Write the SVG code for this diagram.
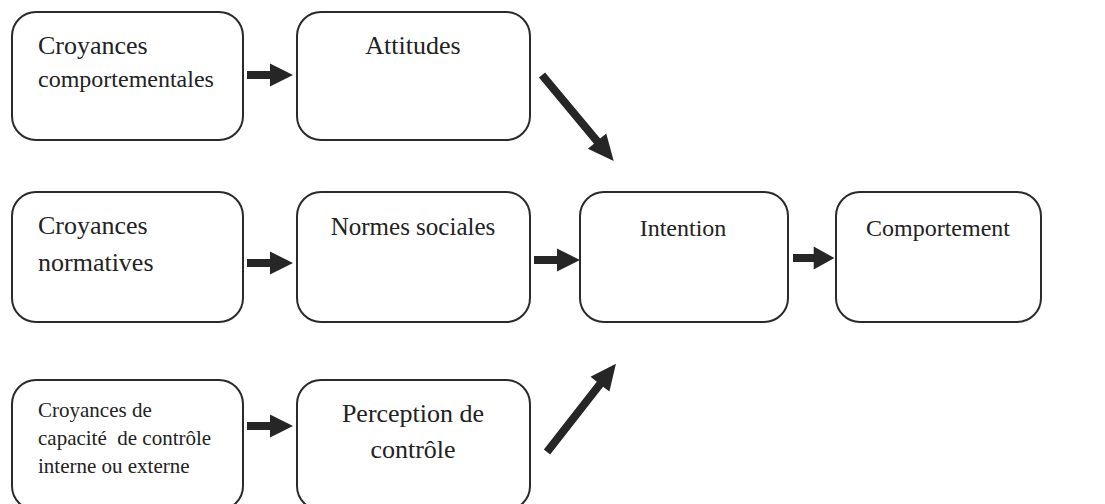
<svg xmlns="http://www.w3.org/2000/svg" width="1105" height="504" viewBox="0 0 1105 504">
<style>
.box{fill:#fff;stroke:#2a2a2a;stroke-width:2}
.t{font-family:"Liberation Serif","Times New Roman",serif;fill:#222}
.c{text-anchor:middle}
.arr{fill:#262626}
</style>
<defs>
<path id="ha" d="M0,-4 L23,-4 L23,-11.5 L46,0 L23,11.5 L23,4 L0,4 Z"/>
<path id="da" d="M0,-4 L86,-4 L86,-12 L112,0 L86,12 L86,4 L0,4 Z"/>
</defs>
<rect width="1105" height="504" fill="#fff"/>
<g id="n1"><rect class="box" x="12" y="12" width="231" height="128" rx="24"/>
<text class="t" x="38" y="54" font-size="26">Croyances</text>
<text class="t" x="38" y="87" font-size="24">comportementales</text></g>
<g id="n2"><rect class="box" x="297" y="12" width="233" height="128" rx="24"/>
<text class="t c" x="413" y="54" font-size="26">Attitudes</text></g>
<g id="n3"><rect class="box" x="12" y="192" width="231" height="130" rx="24"/>
<text class="t" x="38" y="234" font-size="26">Croyances</text>
<text class="t" x="38" y="271" font-size="26">normatives</text></g>
<g id="n4"><rect class="box" x="297" y="192" width="233" height="130" rx="24"/>
<text class="t c" x="413" y="235" font-size="25">Normes sociales</text></g>
<g id="n5"><rect class="box" x="580" y="192" width="208" height="130" rx="24"/>
<text class="t c" x="683" y="236" font-size="24">Intention</text></g>
<g id="n6"><rect class="box" x="836" y="192" width="205" height="130" rx="24"/>
<text class="t c" x="938" y="236" font-size="24">Comportement</text></g>
<g id="n7"><rect class="box" x="12" y="380" width="231" height="130" rx="24"/>
<text class="t" x="38" y="417" font-size="21">Croyances de</text>
<text class="t" x="38" y="445" font-size="21" xml:space="preserve">capacité  de contrôle</text>
<text class="t" x="38" y="473" font-size="21">interne ou externe</text></g>
<g id="n8"><rect class="box" x="297" y="380" width="233" height="130" rx="24"/>
<text class="t c" x="413" y="422" font-size="26">Perception de</text>
<text class="t c" x="413" y="458" font-size="26">contrôle</text></g>
<g id="connectors" class="arr">
<use href="#ha" transform="translate(247,75)"/>
<use href="#ha" transform="translate(247,263)"/>
<use href="#ha" transform="translate(247,426)"/>
<use href="#ha" transform="translate(534,260)"/>
<use href="#ha" transform="translate(793,258) scale(0.9,1)"/>
<use href="#da" transform="translate(542,75) rotate(50.2)"/>
<use href="#da" transform="translate(547,452) rotate(-52)"/>
</g>
</svg>
